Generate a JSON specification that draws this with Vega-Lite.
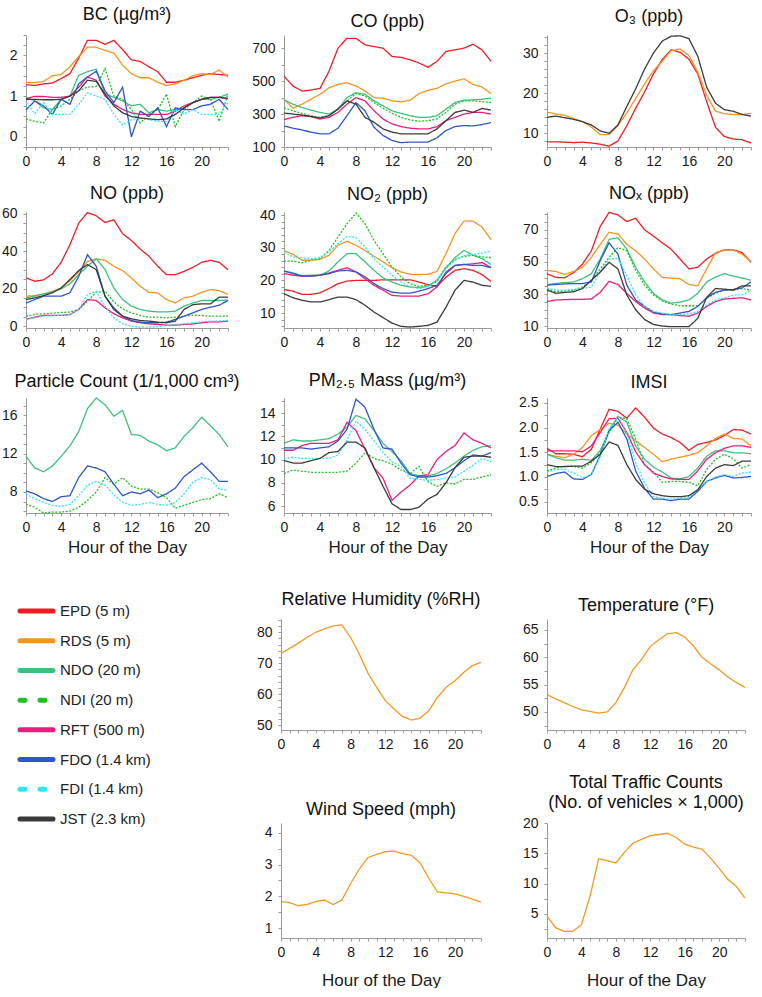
{
"$schema":"https://vega.github.io/schema/vega-lite/v6.json",
"padding":{"left":0,"top":6,"right":0,"bottom":0},
"config":{"font":"Liberation Sans","view":{"stroke":null},
"title":{"font":"Liberation Sans","fontSize":18,"fontWeight":"normal","color":"#111","offset":0,"lineHeight":20},
"axis":{"domainColor":"#9a9a9a","tickColor":"#9a9a9a","tickSize":3,"labelFont":"Liberation Sans","labelFontSize":14,"labelColor":"#1a1a1a","grid":false,"titleFont":"Liberation Sans","titleFontSize":17,"titleFontWeight":"normal","titleColor":"#1a1a1a","labelFlush":false,"labelOverlap":false},
"axisX":{"labelPadding":4,"minExtent":22,"maxExtent":22,"titlePadding":4},
"axisY":{"labelPadding":6},
"line":{"strokeWidth":1.3}},
"datasets":{
"bc":[
{"h":0,"EPD":1.28,"RDS":1.33,"NDO":0.97,"NDI":0.44,"RFT":0.94,"FDO":0.66,"FDI":0.84,"JST":0.92},
{"h":1,"EPD":1.26,"RDS":1.33,"NDO":0.88,"NDI":0.38,"RFT":0.99,"FDO":0.88,"FDI":0.57,"JST":0.92},
{"h":2,"EPD":1.30,"RDS":1.36,"NDO":0.71,"NDI":0.34,"RFT":0.99,"FDO":0.76,"FDI":0.84,"JST":0.91},
{"h":3,"EPD":1.32,"RDS":1.50,"NDO":0.67,"NDI":0.67,"RFT":0.97,"FDO":0.55,"FDI":0.55,"JST":0.91},
{"h":4,"EPD":1.43,"RDS":1.53,"NDO":0.92,"NDI":0.76,"RFT":0.97,"FDO":0.92,"FDI":0.55,"JST":0.92},
{"h":5,"EPD":1.55,"RDS":1.72,"NDO":1.00,"NDI":0.92,"RFT":1.00,"FDO":0.80,"FDI":0.55,"JST":1.00},
{"h":6,"EPD":1.93,"RDS":1.97,"NDO":1.51,"NDI":1.13,"RFT":1.22,"FDO":1.30,"FDI":0.80,"JST":1.13},
{"h":7,"EPD":2.37,"RDS":2.20,"NDO":1.60,"NDI":1.22,"RFT":1.47,"FDO":1.47,"FDI":1.08,"JST":1.39},
{"h":8,"EPD":2.37,"RDS":2.20,"NDO":1.66,"NDI":1.24,"RFT":1.39,"FDO":1.61,"FDI":1.00,"JST":1.36},
{"h":9,"EPD":2.27,"RDS":2.12,"NDO":1.05,"NDI":1.68,"RFT":1.00,"FDO":1.13,"FDI":0.92,"JST":1.05},
{"h":10,"EPD":2.37,"RDS":2.06,"NDO":0.97,"NDI":1.00,"RFT":0.80,"FDO":0.84,"FDI":0.55,"JST":0.76},
{"h":11,"EPD":2.14,"RDS":1.76,"NDO":0.88,"NDI":0.92,"RFT":0.67,"FDO":1.22,"FDI":0.29,"JST":0.59},
{"h":12,"EPD":1.89,"RDS":1.55,"NDO":0.76,"NDI":0.67,"RFT":0.59,"FDO":0.00,"FDI":0.42,"JST":0.50},
{"h":13,"EPD":1.85,"RDS":1.45,"NDO":0.80,"NDI":0.34,"RFT":0.55,"FDO":0.63,"FDI":0.46,"JST":0.46},
{"h":14,"EPD":1.72,"RDS":1.45,"NDO":0.59,"NDI":0.55,"RFT":0.55,"FDO":0.50,"FDI":0.42,"JST":0.44},
{"h":15,"EPD":1.60,"RDS":1.34,"NDO":0.67,"NDI":0.67,"RFT":0.55,"FDO":0.71,"FDI":0.38,"JST":0.42},
{"h":16,"EPD":1.34,"RDS":1.26,"NDO":0.63,"NDI":1.05,"RFT":0.55,"FDO":0.25,"FDI":0.38,"JST":0.44},
{"h":17,"EPD":1.34,"RDS":1.30,"NDO":0.67,"NDI":0.25,"RFT":0.63,"FDO":0.71,"FDI":0.67,"JST":0.55},
{"h":18,"EPD":1.39,"RDS":1.39,"NDO":0.71,"NDI":0.67,"RFT":0.76,"FDO":0.67,"FDI":0.55,"JST":0.71},
{"h":19,"EPD":1.45,"RDS":1.50,"NDO":0.84,"NDI":0.84,"RFT":0.84,"FDO":0.67,"FDI":0.67,"JST":0.84},
{"h":20,"EPD":1.51,"RDS":1.55,"NDO":0.92,"NDI":1.00,"RFT":0.92,"FDO":0.76,"FDI":0.55,"JST":0.92},
{"h":21,"EPD":1.55,"RDS":1.53,"NDO":0.92,"NDI":0.92,"RFT":0.97,"FDO":0.80,"FDI":0.55,"JST":0.97},
{"h":22,"EPD":1.53,"RDS":1.64,"NDO":0.97,"NDI":0.38,"RFT":0.97,"FDO":0.92,"FDI":0.55,"JST":0.97},
{"h":23,"EPD":1.51,"RDS":1.47,"NDO":1.05,"NDI":1.05,"RFT":0.94,"FDO":0.67,"FDI":0.84,"JST":0.94}],
"co":[
{"h":0,"EPD":530,"RDS":390,"NDO":386,"NDI":336,"RFT":266,"FDO":228,"JST":306},
{"h":1,"EPD":470,"RDS":336,"NDO":360,"NDI":320,"RFT":280,"FDO":214,"JST":300},
{"h":2,"EPD":440,"RDS":360,"NDO":340,"NDI":304,"RFT":290,"FDO":204,"JST":294},
{"h":3,"EPD":446,"RDS":390,"NDO":324,"NDI":290,"RFT":284,"FDO":190,"JST":286},
{"h":4,"EPD":456,"RDS":420,"NDO":310,"NDI":280,"RFT":270,"FDO":180,"JST":276},
{"h":5,"EPD":560,"RDS":460,"NDO":300,"NDI":290,"RFT":280,"FDO":180,"JST":290},
{"h":6,"EPD":700,"RDS":480,"NDO":330,"NDI":330,"RFT":310,"FDO":214,"JST":330},
{"h":7,"EPD":760,"RDS":490,"NDO":400,"NDI":380,"RFT":360,"FDO":290,"JST":380},
{"h":8,"EPD":760,"RDS":470,"NDO":430,"NDI":424,"RFT":400,"FDO":370,"JST":360},
{"h":9,"EPD":720,"RDS":440,"NDO":420,"NDI":410,"RFT":380,"FDO":320,"JST":280},
{"h":10,"EPD":710,"RDS":400,"NDO":380,"NDI":370,"RFT":320,"FDO":220,"JST":250},
{"h":11,"EPD":700,"RDS":396,"NDO":350,"NDI":336,"RFT":270,"FDO":170,"JST":210},
{"h":12,"EPD":650,"RDS":380,"NDO":320,"NDI":304,"RFT":240,"FDO":140,"JST":190},
{"h":13,"EPD":644,"RDS":374,"NDO":304,"NDI":280,"RFT":224,"FDO":126,"JST":180},
{"h":14,"EPD":630,"RDS":384,"NDO":290,"NDI":264,"RFT":214,"FDO":130,"JST":180},
{"h":15,"EPD":610,"RDS":424,"NDO":280,"NDI":256,"RFT":210,"FDO":130,"JST":180},
{"h":16,"EPD":584,"RDS":444,"NDO":280,"NDI":260,"RFT":210,"FDO":130,"JST":180},
{"h":17,"EPD":620,"RDS":456,"NDO":290,"NDI":270,"RFT":224,"FDO":156,"JST":210},
{"h":18,"EPD":680,"RDS":484,"NDO":330,"NDI":310,"RFT":260,"FDO":200,"JST":260},
{"h":19,"EPD":690,"RDS":500,"NDO":370,"NDI":360,"RFT":280,"FDO":224,"JST":310},
{"h":20,"EPD":700,"RDS":514,"NDO":384,"NDI":380,"RFT":300,"FDO":230,"JST":324},
{"h":21,"EPD":724,"RDS":480,"NDO":386,"NDI":380,"RFT":310,"FDO":228,"JST":310},
{"h":22,"EPD":690,"RDS":464,"NDO":390,"NDI":376,"RFT":310,"FDO":236,"JST":334},
{"h":23,"EPD":620,"RDS":424,"NDO":396,"NDI":370,"RFT":300,"FDO":248,"JST":324}],
"o3":[
{"h":0,"EPD":7.9,"RDS":15.3,"JST":14.0},{"h":1,"EPD":7.9,"RDS":14.8,"JST":14.3},{"h":2,"EPD":7.8,"RDS":14.5,"JST":13.9},{"h":3,"EPD":7.7,"RDS":13.7,"JST":13.5},
{"h":4,"EPD":7.8,"RDS":12.9,"JST":12.9},{"h":5,"EPD":7.6,"RDS":11.6,"JST":12.1},{"h":6,"EPD":7.3,"RDS":9.7,"JST":10.6},{"h":7,"EPD":6.8,"RDS":9.7,"JST":10.0},
{"h":8,"EPD":8.1,"RDS":11.9,"JST":12.1},{"h":9,"EPD":11.9,"RDS":15.1,"JST":16.7},{"h":10,"EPD":16.3,"RDS":18.7,"JST":21.1},{"h":11,"EPD":20.3,"RDS":22.3,"JST":26.0},
{"h":12,"EPD":24.8,"RDS":25.6,"JST":30.0},{"h":13,"EPD":28.4,"RDS":28.0,"JST":33.0},{"h":14,"EPD":30.8,"RDS":30.6,"JST":34.2},{"h":15,"EPD":30.2,"RDS":31.0,"JST":34.3},
{"h":16,"EPD":28.5,"RDS":29.4,"JST":33.6},{"h":17,"EPD":24.8,"RDS":25.2,"JST":29.2},{"h":18,"EPD":17.9,"RDS":19.5,"JST":21.5},{"h":19,"EPD":11.5,"RDS":15.5,"JST":17.5},
{"h":20,"EPD":9.2,"RDS":14.9,"JST":15.9},{"h":21,"EPD":8.6,"RDS":14.7,"JST":15.5},{"h":22,"EPD":8.4,"RDS":14.7,"JST":14.7},{"h":23,"EPD":7.6,"RDS":15.0,"JST":14.3}],
"no":[
{"h":0,"EPD":25.8,"RDS":16.0,"NDO":15.1,"NDI":5.3,"RFT":3.6,"FDO":12.3,"FDI":3.6,"JST":14.2},
{"h":1,"EPD":24.0,"RDS":16.3,"NDO":16.0,"NDI":6.2,"RFT":4.8,"FDO":14.2,"FDI":4.4,"JST":15.1},
{"h":2,"EPD":24.7,"RDS":17.2,"NDO":17.2,"NDI":6.6,"RFT":5.7,"FDO":16.0,"FDI":5.3,"JST":16.3},
{"h":3,"EPD":27.9,"RDS":18.6,"NDO":18.3,"NDI":6.9,"RFT":5.7,"FDO":16.0,"FDI":5.7,"JST":17.8},
{"h":4,"EPD":34.1,"RDS":20.4,"NDO":19.9,"NDI":7.3,"RFT":5.7,"FDO":16.0,"FDI":5.7,"JST":20.4},
{"h":5,"EPD":43.5,"RDS":24.3,"NDO":22.6,"NDI":7.5,"RFT":6.2,"FDO":17.8,"FDI":6.2,"JST":24.9},
{"h":6,"EPD":55.0,"RDS":29.0,"NDO":27.5,"NDI":8.9,"RFT":8.9,"FDO":26.6,"FDI":8.9,"JST":29.7},
{"h":7,"EPD":60.7,"RDS":34.6,"NDO":32.0,"NDI":13.3,"RFT":14.2,"FDO":38.2,"FDI":16.9,"JST":32.9},
{"h":8,"EPD":59.0,"RDS":35.9,"NDO":36.0,"NDI":18.1,"RFT":13.7,"FDO":32.0,"FDI":18.6,"JST":30.2},
{"h":9,"EPD":55.4,"RDS":35.2,"NDO":30.2,"NDI":18.6,"RFT":9.8,"FDO":16.0,"FDI":10.7,"JST":16.0},
{"h":10,"EPD":56.8,"RDS":32.0,"NDO":20.4,"NDI":13.0,"RFT":6.6,"FDO":9.8,"FDI":4.4,"JST":8.9},
{"h":11,"EPD":49.4,"RDS":29.7,"NDO":14.2,"NDI":9.2,"RFT":4.4,"FDO":5.3,"FDI":1.2,"JST":5.3},
{"h":12,"EPD":45.8,"RDS":25.8,"NDO":10.7,"NDI":7.1,"RFT":2.7,"FDO":3.0,"FDI":0.0,"JST":3.9},
{"h":13,"EPD":41.2,"RDS":21.3,"NDO":8.9,"NDI":5.7,"RFT":1.8,"FDO":2.1,"FDI":-0.5,"JST":3.0},
{"h":14,"EPD":37.3,"RDS":18.1,"NDO":8.0,"NDI":4.8,"RFT":1.2,"FDO":1.8,"FDI":-0.5,"JST":2.7},
{"h":15,"EPD":32.0,"RDS":17.8,"NDO":7.6,"NDI":4.8,"RFT":0.9,"FDO":1.8,"FDI":-0.2,"JST":2.1},
{"h":16,"EPD":27.5,"RDS":14.2,"NDO":7.6,"NDI":4.4,"RFT":0.5,"FDO":2.1,"FDI":0.4,"JST":1.8},
{"h":17,"EPD":27.5,"RDS":12.4,"NDO":8.0,"NDI":4.8,"RFT":0.5,"FDO":3.6,"FDI":0.9,"JST":2.7},
{"h":18,"EPD":29.3,"RDS":15.1,"NDO":10.7,"NDI":5.3,"RFT":0.9,"FDO":5.3,"FDI":1.2,"JST":8.9},
{"h":19,"EPD":31.4,"RDS":16.0,"NDO":12.4,"NDI":5.9,"RFT":1.2,"FDO":7.1,"FDI":1.8,"JST":11.5},
{"h":20,"EPD":34.1,"RDS":18.1,"NDO":13.7,"NDI":5.7,"RFT":1.8,"FDO":8.9,"FDI":2.3,"JST":11.9},
{"h":21,"EPD":35.2,"RDS":19.5,"NDO":13.7,"NDI":5.3,"RFT":2.3,"FDO":10.1,"FDI":2.7,"JST":11.9},
{"h":22,"EPD":34.1,"RDS":19.0,"NDO":13.7,"NDI":5.3,"RFT":2.3,"FDO":11.2,"FDI":2.7,"JST":15.5},
{"h":23,"EPD":30.2,"RDS":16.9,"NDO":13.9,"NDI":5.3,"RFT":2.7,"FDO":13.7,"FDI":3.0,"JST":15.5}],
"no2":[
{"h":0,"EPD":17.2,"RDS":29.2,"NDO":22.9,"NDI":25.9,"RFT":22.1,"FDO":22.9,"FDI":28.7,"JST":15.9},
{"h":1,"EPD":16.7,"RDS":28.0,"NDO":22.3,"NDI":25.9,"RFT":21.6,"FDO":22.1,"FDI":27.2,"JST":14.7},
{"h":2,"EPD":15.7,"RDS":26.2,"NDO":21.5,"NDI":25.4,"RFT":21.3,"FDO":21.3,"FDI":27.0,"JST":13.9},
{"h":3,"EPD":15.7,"RDS":26.2,"NDO":21.6,"NDI":26.2,"RFT":21.3,"FDO":21.3,"FDI":26.7,"JST":13.4},
{"h":4,"EPD":16.2,"RDS":26.5,"NDO":21.6,"NDI":26.7,"RFT":21.6,"FDO":21.6,"FDI":27.0,"JST":13.4},
{"h":5,"EPD":17.5,"RDS":27.7,"NDO":22.9,"NDI":29.2,"RFT":22.3,"FDO":22.1,"FDI":28.7,"JST":14.1},
{"h":6,"EPD":19.0,"RDS":30.8,"NDO":25.7,"NDI":33.3,"RFT":23.1,"FDO":22.9,"FDI":31.3,"JST":14.9},
{"h":7,"EPD":19.8,"RDS":32.0,"NDO":28.2,"NDI":37.4,"RFT":23.9,"FDO":23.1,"FDI":33.5,"JST":14.9},
{"h":8,"EPD":20.0,"RDS":30.8,"NDO":28.2,"NDI":40.7,"RFT":22.6,"FDO":22.6,"FDI":33.1,"JST":14.1},
{"h":9,"EPD":20.0,"RDS":29.2,"NDO":25.7,"NDI":37.4,"RFT":20.5,"FDO":21.1,"FDI":30.3,"JST":12.4},
{"h":10,"EPD":20.0,"RDS":27.4,"NDO":23.1,"NDI":32.3,"RFT":18.5,"FDO":19.0,"FDI":26.7,"JST":10.3},
{"h":11,"EPD":20.2,"RDS":25.7,"NDO":20.8,"NDI":28.2,"RFT":17.0,"FDO":17.5,"FDI":24.1,"JST":8.6},
{"h":12,"EPD":20.2,"RDS":23.9,"NDO":19.5,"NDI":24.1,"RFT":15.4,"FDO":16.4,"FDI":21.6,"JST":6.9},
{"h":13,"EPD":20.2,"RDS":22.6,"NDO":18.5,"NDI":21.1,"RFT":15.2,"FDO":16.1,"FDI":19.5,"JST":5.9},
{"h":14,"EPD":20.2,"RDS":21.9,"NDO":18.0,"NDI":19.0,"RFT":15.2,"FDO":16.1,"FDI":18.0,"JST":5.7},
{"h":15,"EPD":19.5,"RDS":21.8,"NDO":17.8,"NDI":18.2,"RFT":15.2,"FDO":16.7,"FDI":17.5,"JST":5.9},
{"h":16,"EPD":18.7,"RDS":21.9,"NDO":18.2,"NDI":18.5,"RFT":15.9,"FDO":17.5,"FDI":18.2,"JST":6.2},
{"h":17,"EPD":18.2,"RDS":22.8,"NDO":20.0,"NDI":19.7,"RFT":18.0,"FDO":18.5,"FDI":20.2,"JST":7.2},
{"h":18,"EPD":21.0,"RDS":28.2,"NDO":23.9,"NDI":24.1,"RFT":22.6,"FDO":22.1,"FDI":23.6,"JST":11.8},
{"h":19,"EPD":23.1,"RDS":34.4,"NDO":27.0,"NDI":26.4,"RFT":24.6,"FDO":24.6,"FDI":26.2,"JST":17.0},
{"h":20,"EPD":23.6,"RDS":38.2,"NDO":29.2,"NDI":27.4,"RFT":24.9,"FDO":24.9,"FDI":27.7,"JST":20.0},
{"h":21,"EPD":23.1,"RDS":38.2,"NDO":27.7,"NDI":27.7,"RFT":25.1,"FDO":24.6,"FDI":28.0,"JST":19.5},
{"h":22,"EPD":21.8,"RDS":36.4,"NDO":26.7,"NDI":27.2,"RFT":25.5,"FDO":24.6,"FDI":28.4,"JST":18.5},
{"h":23,"EPD":19.7,"RDS":32.5,"NDO":24.9,"NDI":27.0,"RFT":23.9,"FDO":23.9,"FDI":29.0,"JST":18.2}],
"nox":[
{"h":0,"EPD":42.7,"RDS":44.7,"NDO":36.0,"NDI":33.1,"RFT":25.4,"FDO":35.6,"FDI":33.5,"JST":32.5},
{"h":1,"EPD":40.4,"RDS":44.1,"NDO":36.6,"NDI":31.5,"RFT":26.4,"FDO":36.0,"FDI":32.5,"JST":30.5},
{"h":2,"EPD":40.2,"RDS":42.3,"NDO":37.2,"NDI":31.9,"RFT":26.6,"FDO":36.4,"FDI":32.5,"JST":31.1},
{"h":3,"EPD":43.3,"RDS":44.1,"NDO":37.6,"NDI":32.5,"RFT":26.8,"FDO":36.6,"FDI":32.9,"JST":31.5},
{"h":4,"EPD":48.7,"RDS":46.7,"NDO":39.6,"NDI":34.5,"RFT":26.8,"FDO":36.6,"FDI":33.5,"JST":33.5},
{"h":5,"EPD":56.9,"RDS":52.8,"NDO":42.7,"NDI":38.6,"RFT":27.0,"FDO":37.6,"FDI":34.5,"JST":38.6},
{"h":6,"EPD":72.0,"RDS":60.9,"NDO":51.8,"NDI":45.7,"RFT":31.1,"FDO":50.8,"FDI":43.7,"JST":43.7},
{"h":7,"EPD":80.8,"RDS":68.4,"NDO":64.0,"NDI":52.8,"RFT":38.0,"FDO":61.9,"FDI":51.8,"JST":49.8},
{"h":8,"EPD":79.2,"RDS":67.4,"NDO":65.0,"NDI":58.9,"RFT":36.0,"FDO":54.8,"FDI":52.2,"JST":45.7},
{"h":9,"EPD":75.1,"RDS":60.9,"NDO":57.9,"NDI":56.9,"RFT":30.5,"FDO":35.6,"FDI":41.6,"JST":29.5},
{"h":10,"EPD":77.1,"RDS":56.9,"NDO":46.7,"NDI":44.7,"RFT":25.4,"FDO":26.4,"FDI":29.5,"JST":20.3},
{"h":11,"EPD":70.0,"RDS":51.8,"NDO":37.6,"NDI":35.6,"RFT":21.4,"FDO":22.4,"FDI":22.4,"JST":14.3},
{"h":12,"EPD":66.0,"RDS":45.7,"NDO":30.5,"NDI":29.5,"RFT":18.3,"FDO":18.9,"FDI":19.3,"JST":11.2},
{"h":13,"EPD":61.9,"RDS":40.4,"NDO":26.4,"NDI":25.8,"RFT":17.3,"FDO":17.7,"FDI":18.3,"JST":10.2},
{"h":14,"EPD":57.9,"RDS":40.0,"NDO":24.4,"NDI":23.8,"RFT":17.3,"FDO":17.3,"FDI":17.3,"JST":9.8},
{"h":15,"EPD":51.8,"RDS":39.6,"NDO":25.0,"NDI":22.8,"RFT":16.7,"FDO":18.3,"FDI":17.3,"JST":9.8},
{"h":16,"EPD":45.7,"RDS":36.0,"NDO":26.4,"NDI":22.8,"RFT":16.3,"FDO":19.3,"FDI":17.7,"JST":9.8},
{"h":17,"EPD":46.7,"RDS":35.2,"NDO":30.5,"NDI":22.8,"RFT":18.3,"FDO":22.4,"FDI":19.3,"JST":15.0},
{"h":18,"EPD":51.8,"RDS":45.7,"NDO":37.6,"NDI":27.4,"RFT":22.4,"FDO":27.8,"FDI":23.4,"JST":28.0},
{"h":19,"EPD":55.4,"RDS":55.8,"NDO":40.6,"NDI":30.5,"RFT":25.4,"FDO":31.1,"FDI":26.4,"JST":33.5},
{"h":20,"EPD":57.5,"RDS":57.5,"NDO":42.7,"NDI":32.5,"RFT":27.0,"FDO":32.5,"FDI":27.8,"JST":33.1},
{"h":21,"EPD":57.5,"RDS":57.5,"NDO":41.2,"NDI":32.5,"RFT":27.4,"FDO":32.9,"FDI":29.5,"JST":32.5},
{"h":22,"EPD":55.8,"RDS":54.8,"NDO":40.0,"NDI":33.5,"RFT":27.8,"FDO":33.9,"FDI":29.5,"JST":35.2},
{"h":23,"EPD":49.8,"RDS":50.2,"NDO":38.6,"NDI":32.5,"RFT":26.4,"FDO":37.6,"FDI":32.5,"JST":35.2}],
"pc":[
{"h":0,"NDO":11.7,"NDI":6.7,"FDO":8.1,"FDI":7.8},{"h":1,"NDO":10.5,"NDI":6.4,"FDO":7.8,"FDI":7.3},{"h":2,"NDO":10.1,"NDI":5.8,"FDO":7.3,"FDI":6.9},
{"h":3,"NDO":10.7,"NDI":5.9,"FDO":7.0,"FDI":6.6},{"h":4,"NDO":11.7,"NDI":5.9,"FDO":7.5,"FDI":6.5},{"h":5,"NDO":12.8,"NDI":6.0,"FDO":7.6,"FDI":6.7},
{"h":6,"NDO":14.3,"NDI":6.4,"FDO":9.5,"FDI":7.6},{"h":7,"NDO":16.7,"NDI":7.1,"FDO":10.7,"FDI":8.7},{"h":8,"NDO":17.8,"NDI":8.0,"FDO":10.5,"FDI":9.1},
{"h":9,"NDO":17.1,"NDI":9.5,"FDO":10.1,"FDI":8.7},{"h":10,"NDO":15.9,"NDI":8.8,"FDO":8.8,"FDI":7.7},{"h":11,"NDO":16.5,"NDI":9.5,"FDO":7.6,"FDI":6.9},
{"h":12,"NDO":14.0,"NDI":8.6,"FDO":8.0,"FDI":6.6},{"h":13,"NDO":13.9,"NDI":8.3,"FDO":7.8,"FDI":6.7},{"h":14,"NDO":13.3,"NDI":8.3,"FDO":8.2,"FDI":6.9},
{"h":15,"NDO":12.9,"NDI":7.9,"FDO":7.4,"FDI":6.7},{"h":16,"NDO":12.3,"NDI":7.4,"FDO":7.8,"FDI":6.6},{"h":17,"NDO":12.6,"NDI":6.3,"FDO":8.4,"FDI":6.9},
{"h":18,"NDO":13.8,"NDI":6.6,"FDO":9.6,"FDI":7.8},{"h":19,"NDO":14.7,"NDI":6.9,"FDO":10.3,"FDI":9.0},{"h":20,"NDO":15.8,"NDI":7.2,"FDO":11.0,"FDI":9.5},
{"h":21,"NDO":14.9,"NDI":7.3,"FDO":10.1,"FDI":9.3},{"h":22,"NDO":14.0,"NDI":7.8,"FDO":9.1,"FDI":8.3},{"h":23,"NDO":12.7,"NDI":7.4,"FDO":9.1,"FDI":8.2}],
"pm":[
{"h":0,"NDO":11.4,"NDI":8.8,"RFT":10.8,"FDO":11.0,"FDI":10.1,"JST":9.9},
{"h":1,"NDO":11.7,"NDI":9.1,"RFT":10.8,"FDO":11.0,"FDI":10.2,"JST":9.7},
{"h":2,"NDO":11.6,"NDI":9.0,"RFT":11.2,"FDO":11.0,"FDI":10.1,"JST":9.7},
{"h":3,"NDO":11.6,"NDI":8.9,"RFT":11.4,"FDO":10.9,"FDI":10.1,"JST":9.9},
{"h":4,"NDO":11.7,"NDI":8.9,"RFT":11.4,"FDO":11.0,"FDI":10.1,"JST":10.1},
{"h":5,"NDO":11.8,"NDI":8.9,"RFT":11.4,"FDO":11.1,"FDI":10.1,"JST":10.6},
{"h":6,"NDO":12.2,"NDI":8.9,"RFT":11.7,"FDO":11.6,"FDI":10.4,"JST":10.7},
{"h":7,"NDO":12.8,"NDI":9.0,"RFT":13.2,"FDO":12.6,"FDI":11.7,"JST":11.5},
{"h":8,"NDO":13.8,"NDI":9.7,"RFT":12.5,"FDO":15.2,"FDI":13.3,"JST":11.5},
{"h":9,"NDO":13.5,"NDI":10.6,"RFT":10.9,"FDO":14.5,"FDI":12.6,"JST":11.0},
{"h":10,"NDO":12.5,"NDI":10.1,"RFT":9.3,"FDO":12.6,"FDI":11.6,"JST":9.3},
{"h":11,"NDO":11.4,"NDI":9.9,"RFT":8.4,"FDO":11.0,"FDI":10.6,"JST":7.7},
{"h":12,"NDO":10.7,"NDI":9.6,"RFT":6.5,"FDO":10.9,"FDI":9.8,"JST":6.2},
{"h":13,"NDO":9.9,"NDI":9.1,"RFT":7.2,"FDO":9.7,"FDI":9.4,"JST":5.7},
{"h":14,"NDO":8.8,"NDI":8.8,"RFT":7.8,"FDO":8.7,"FDI":8.4,"JST":5.7},
{"h":15,"NDO":8.6,"NDI":9.4,"RFT":8.6,"FDO":8.5,"FDI":8.3,"JST":5.9},
{"h":16,"NDO":8.6,"NDI":8.1,"RFT":8.7,"FDO":8.5,"FDI":8.2,"JST":6.6},
{"h":17,"NDO":8.8,"NDI":7.7,"RFT":10.0,"FDO":8.6,"FDI":8.3,"JST":7.0},
{"h":18,"NDO":9.2,"NDI":8.0,"RFT":10.7,"FDO":8.8,"FDI":8.4,"JST":8.0},
{"h":19,"NDO":9.7,"NDI":7.9,"RFT":11.2,"FDO":9.3,"FDI":8.5,"JST":9.3},
{"h":20,"NDO":10.3,"NDI":8.3,"RFT":12.3,"FDO":9.9,"FDI":9.0,"JST":10.2},
{"h":21,"NDO":10.8,"NDI":8.3,"RFT":11.7,"FDO":10.4,"FDI":9.5,"JST":10.3},
{"h":22,"NDO":11.1,"NDI":8.5,"RFT":11.4,"FDO":10.3,"FDI":10.1,"JST":10.3},
{"h":23,"NDO":11.2,"NDI":8.7,"RFT":11.0,"FDO":10.6,"FDI":9.8,"JST":10.2}],
"imsi":[
{"h":0,"EPD":1.58,"RDS":1.46,"NDO":1.46,"NDI":1.12,"RFT":1.53,"FDO":1.01,"FDI":1.10,"JST":1.25},
{"h":1,"EPD":1.47,"RDS":1.42,"NDO":1.39,"NDI":1.18,"RFT":1.53,"FDO":1.07,"FDI":1.15,"JST":1.21},
{"h":2,"EPD":1.47,"RDS":1.39,"NDO":1.34,"NDI":1.22,"RFT":1.53,"FDO":1.10,"FDI":1.16,"JST":1.21},
{"h":3,"EPD":1.46,"RDS":1.46,"NDO":1.34,"NDI":1.21,"RFT":1.53,"FDO":0.96,"FDI":1.08,"JST":1.22},
{"h":4,"EPD":1.41,"RDS":1.60,"NDO":1.36,"NDI":1.18,"RFT":1.51,"FDO":0.95,"FDI":0.98,"JST":1.22},
{"h":5,"EPD":1.56,"RDS":1.84,"NDO":1.34,"NDI":1.29,"RFT":1.63,"FDO":1.05,"FDI":1.05,"JST":1.32},
{"h":6,"EPD":1.97,"RDS":1.96,"NDO":1.53,"NDI":1.49,"RFT":1.90,"FDO":1.44,"FDI":1.42,"JST":1.46},
{"h":7,"EPD":2.37,"RDS":2.09,"NDO":1.94,"NDI":1.90,"RFT":2.18,"FDO":1.94,"FDI":1.97,"JST":1.71},
{"h":8,"EPD":2.33,"RDS":2.05,"NDO":2.23,"NDI":2.21,"RFT":2.19,"FDO":2.11,"FDI":2.23,"JST":1.64},
{"h":9,"EPD":2.19,"RDS":1.87,"NDO":2.11,"NDI":2.18,"RFT":1.90,"FDO":1.77,"FDI":1.90,"JST":1.25},
{"h":10,"EPD":2.40,"RDS":1.73,"NDO":1.63,"NDI":1.77,"RFT":1.51,"FDO":1.12,"FDI":1.29,"JST":0.95},
{"h":11,"EPD":2.21,"RDS":1.60,"NDO":1.36,"NDI":1.25,"RFT":1.25,"FDO":0.77,"FDI":0.88,"JST":0.75},
{"h":12,"EPD":1.99,"RDS":1.46,"NDO":1.20,"NDI":1.10,"RFT":1.08,"FDO":0.55,"FDI":0.60,"JST":0.66},
{"h":13,"EPD":1.87,"RDS":1.31,"NDO":1.10,"NDI":0.89,"RFT":1.01,"FDO":0.55,"FDI":0.57,"JST":0.62},
{"h":14,"EPD":1.80,"RDS":1.36,"NDO":0.98,"NDI":0.91,"RFT":0.96,"FDO":0.52,"FDI":0.55,"JST":0.60},
{"h":15,"EPD":1.70,"RDS":1.40,"NDO":0.96,"NDI":0.91,"RFT":0.95,"FDO":0.55,"FDI":0.57,"JST":0.60},
{"h":16,"EPD":1.54,"RDS":1.44,"NDO":1.01,"NDI":0.89,"RFT":0.95,"FDO":0.55,"FDI":0.59,"JST":0.62},
{"h":17,"EPD":1.66,"RDS":1.49,"NDO":1.18,"NDI":0.82,"RFT":1.12,"FDO":0.71,"FDI":0.75,"JST":0.74},
{"h":18,"EPD":1.70,"RDS":1.63,"NDO":1.42,"NDI":1.15,"RFT":1.36,"FDO":0.91,"FDI":0.91,"JST":1.01},
{"h":19,"EPD":1.75,"RDS":1.78,"NDO":1.53,"NDI":1.36,"RFT":1.49,"FDO":0.98,"FDI":1.00,"JST":1.18},
{"h":20,"EPD":1.84,"RDS":1.87,"NDO":1.53,"NDI":1.46,"RFT":1.58,"FDO":1.03,"FDI":1.05,"JST":1.25},
{"h":21,"EPD":1.96,"RDS":1.78,"NDO":1.49,"NDI":1.37,"RFT":1.63,"FDO":0.98,"FDI":1.01,"JST":1.23},
{"h":22,"EPD":1.95,"RDS":1.77,"NDO":1.49,"NDI":1.18,"RFT":1.63,"FDO":0.99,"FDI":1.08,"JST":1.32},
{"h":23,"EPD":1.87,"RDS":1.63,"NDO":1.47,"NDI":1.25,"RFT":1.60,"FDO":1.01,"FDI":1.10,"JST":1.32}],
"rh":[{"h":0,"v":73.2},{"h":1,"v":74.8},{"h":2,"v":76.5},{"h":3,"v":78.4},{"h":4,"v":80.0},{"h":5,"v":81.1},{"h":6,"v":82.1},{"h":7,"v":82.4},{"h":8,"v":78.4},{"h":9,"v":73.0},{"h":10,"v":66.8},{"h":11,"v":62.2},{"h":12,"v":57.9},{"h":13,"v":55.2},{"h":14,"v":52.7},{"h":15,"v":51.6},{"h":16,"v":52.2},{"h":17,"v":54.6},{"h":18,"v":59.0},{"h":19,"v":62.2},{"h":20,"v":64.3},{"h":21,"v":67.0},{"h":22,"v":69.2},{"h":23,"v":70.3}],
"temp":[{"h":0,"v":53.2},{"h":1,"v":52.4},{"h":2,"v":51.7},{"h":3,"v":51.0},{"h":4,"v":50.4},{"h":5,"v":50.1},{"h":6,"v":49.8},{"h":7,"v":50.0},{"h":8,"v":51.7},{"h":9,"v":54.5},{"h":10,"v":57.8},{"h":11,"v":59.6},{"h":12,"v":62.0},{"h":13,"v":63.2},{"h":14,"v":64.3},{"h":15,"v":64.5},{"h":16,"v":63.7},{"h":17,"v":62.1},{"h":18,"v":60.0},{"h":19,"v":58.8},{"h":20,"v":57.7},{"h":21,"v":56.4},{"h":22,"v":55.4},{"h":23,"v":54.5}],
"wind":[{"h":0,"v":1.84},{"h":1,"v":1.81},{"h":2,"v":1.71},{"h":3,"v":1.75},{"h":4,"v":1.84},{"h":5,"v":1.89},{"h":6,"v":1.75},{"h":7,"v":1.89},{"h":8,"v":2.40},{"h":9,"v":2.86},{"h":10,"v":3.22},{"h":11,"v":3.32},{"h":12,"v":3.40},{"h":13,"v":3.42},{"h":14,"v":3.34},{"h":15,"v":3.29},{"h":16,"v":3.05},{"h":17,"v":2.57},{"h":18,"v":2.14},{"h":19,"v":2.11},{"h":20,"v":2.08},{"h":21,"v":2.00},{"h":22,"v":1.92},{"h":23,"v":1.82}],
"traffic":[{"h":0,"v":4.6},{"h":1,"v":2.7},{"h":2,"v":2.1},{"h":3,"v":2.1},{"h":4,"v":3.2},{"h":5,"v":7.9},{"h":6,"v":14.1},{"h":7,"v":13.8},{"h":8,"v":13.4},{"h":9,"v":15.2},{"h":10,"v":16.7},{"h":11,"v":17.3},{"h":12,"v":17.9},{"h":13,"v":18.1},{"h":14,"v":18.3},{"h":15,"v":17.6},{"h":16,"v":16.5},{"h":17,"v":16.0},{"h":18,"v":15.7},{"h":19,"v":14.2},{"h":20,"v":12.5},{"h":21,"v":10.7},{"h":22,"v":9.5},{"h":23,"v":7.6}],
"legend":[{"site":"EPD","label":"EPD (5 m)"},{"site":"RDS","label":"RDS (5 m)"},{"site":"NDO","label":"NDO (20 m)"},{"site":"NDI","label":"NDI (20 m)"},{"site":"RFT","label":"RFT (500 m)"},{"site":"FDO","label":"FDO (1.4 km)"},{"site":"FDI","label":"FDI (1.4 km)"},{"site":"JST","label":"JST (2.3 km)"}]
},
"vconcat":[
{"spacing":22,"vconcat":[
{"spacing":15,"vconcat":[
{"bounds":"flush","spacing":56,"hconcat":[
{"width":202,"height":112,"title":"BC (µg/m³)","data":{"name":"bc"},"transform":[{"fold":["EPD","RDS","NDO","NDI","RFT","FDO","FDI","JST"],"as":["site","v"]}],"mark":"line",
"encoding":{"x":{"field":"h","type":"quantitative","scale":{"domain":[0,23],"nice":false},"axis":{"values":[0,1,2,3,4,5,6,7,8,9,10,11,12,13,14,15,16,17,18,19,20,21,22,23],"labelExpr":"datum.value % 4 == 0 ? datum.label : ''","title":null}},
"y":{"field":"v","type":"quantitative","scale":{"domain":[-0.25,2.5],"nice":false,"zero":false},"axis":{"values":[-0.25,0,0.25,0.5,0.75,1,1.25,1.5,1.75,2,2.25,2.5],"labelExpr":"datum.value % 1 == 0 ? format(datum.value, 'd') : ''","title":null,"minExtent":26,"maxExtent":26}},
"color":{"field":"site","type":"nominal","scale":{"domain":["EPD","RDS","NDO","NDI","RFT","FDO","FDI","JST"],"range":["#ee1c25","#f7941d","#3fbf7f","#1ec21e","#ec1c7c","#2f55c8","#2ee6f0","#3a3a3a"]},"legend":null},
"strokeDash":{"field":"site","type":"nominal","scale":{"domain":["EPD","RDS","NDO","NDI","RFT","FDO","FDI","JST"],"range":[[1,0],[1,0],[1,0],[2,1.5],[1,0],[1,0],[2,1.5],[1,0]]},"legend":null}}},
{"width":207,"height":112,"title":"CO (ppb)","data":{"name":"co"},"transform":[{"fold":["EPD","RDS","NDO","NDI","RFT","FDO","JST"],"as":["site","v"]}],"mark":"line",
"encoding":{"x":{"field":"h","type":"quantitative","scale":{"domain":[0,23],"nice":false},"axis":{"values":[0,1,2,3,4,5,6,7,8,9,10,11,12,13,14,15,16,17,18,19,20,21,22,23],"labelExpr":"datum.value % 4 == 0 ? datum.label : ''","title":null}},
"y":{"field":"v","type":"quantitative","scale":{"domain":[100,780],"nice":false,"zero":false},"axis":{"values":[100,200,300,400,500,600,700],"labelExpr":"datum.value % 200 == 100 ? datum.label : ''","title":null}},
"color":{"field":"site","type":"nominal","scale":{"domain":["EPD","RDS","NDO","NDI","RFT","FDO","FDI","JST"],"range":["#ee1c25","#f7941d","#3fbf7f","#1ec21e","#ec1c7c","#2f55c8","#2ee6f0","#3a3a3a"]},"legend":null},
"strokeDash":{"field":"site","type":"nominal","scale":{"domain":["EPD","RDS","NDO","NDI","RFT","FDO","FDI","JST"],"range":[[1,0],[1,0],[1,0],[2,1.5],[1,0],[1,0],[2,1.5],[1,0]]},"legend":null}}},
{"width":204,"height":112,"title":"O₃ (ppb)","data":{"name":"o3"},"transform":[{"fold":["EPD","RDS","JST"],"as":["site","v"]}],"mark":"line",
"encoding":{"x":{"field":"h","type":"quantitative","scale":{"domain":[0,23],"nice":false},"axis":{"values":[0,1,2,3,4,5,6,7,8,9,10,11,12,13,14,15,16,17,18,19,20,21,22,23],"labelExpr":"datum.value % 4 == 0 ? datum.label : ''","title":null}},
"y":{"field":"v","type":"quantitative","scale":{"domain":[6.6,34.5],"nice":false,"zero":false},"axis":{"values":[8,10,12,14,16,18,20,22,24,26,28,30,32,34],"labelExpr":"datum.value % 10 == 0 ? datum.label : ''","title":null}},
"color":{"field":"site","type":"nominal","scale":{"domain":["EPD","RDS","NDO","NDI","RFT","FDO","FDI","JST"],"range":["#ee1c25","#f7941d","#3fbf7f","#1ec21e","#ec1c7c","#2f55c8","#2ee6f0","#3a3a3a"]},"legend":null},
"strokeDash":{"field":"site","type":"nominal","scale":{"domain":["EPD","RDS","NDO","NDI","RFT","FDO","FDI","JST"],"range":[[1,0],[1,0],[1,0],[2,1.5],[1,0],[1,0],[2,1.5],[1,0]]},"legend":null}}}
]},
{"bounds":"flush","spacing":56,"hconcat":[
{"width":202,"height":116,"title":"NO (ppb)","data":{"name":"no"},"transform":[{"fold":["EPD","RDS","NDO","NDI","RFT","FDO","FDI","JST"],"as":["site","v"]}],"mark":"line",
"encoding":{"x":{"field":"h","type":"quantitative","scale":{"domain":[0,23],"nice":false},"axis":{"values":[0,1,2,3,4,5,6,7,8,9,10,11,12,13,14,15,16,17,18,19,20,21,22,23],"labelExpr":"datum.value % 4 == 0 ? datum.label : ''","title":null}},
"y":{"field":"v","type":"quantitative","scale":{"domain":[-1,61],"nice":false,"zero":false},"axis":{"values":[0,5,10,15,20,25,30,35,40,45,50,55,60],"labelExpr":"datum.value % 20 == 0 ? datum.label : ''","title":null,"minExtent":26,"maxExtent":26}},
"color":{"field":"site","type":"nominal","scale":{"domain":["EPD","RDS","NDO","NDI","RFT","FDO","FDI","JST"],"range":["#ee1c25","#f7941d","#3fbf7f","#1ec21e","#ec1c7c","#2f55c8","#2ee6f0","#3a3a3a"]},"legend":null},
"strokeDash":{"field":"site","type":"nominal","scale":{"domain":["EPD","RDS","NDO","NDI","RFT","FDO","FDI","JST"],"range":[[1,0],[1,0],[1,0],[2,1.5],[1,0],[1,0],[2,1.5],[1,0]]},"legend":null}}},
{"width":207,"height":116,"title":"NO₂ (ppb)","data":{"name":"no2"},"transform":[{"fold":["EPD","RDS","NDO","NDI","RFT","FDO","FDI","JST"],"as":["site","v"]}],"mark":"line",
"encoding":{"x":{"field":"h","type":"quantitative","scale":{"domain":[0,23],"nice":false},"axis":{"values":[0,1,2,3,4,5,6,7,8,9,10,11,12,13,14,15,16,17,18,19,20,21,22,23],"labelExpr":"datum.value % 4 == 0 ? datum.label : ''","title":null}},
"y":{"field":"v","type":"quantitative","scale":{"domain":[5.4,41],"nice":false,"zero":false},"axis":{"values":[6,8,10,12,14,16,18,20,22,24,26,28,30,32,34,36,38,40],"labelExpr":"datum.value % 10 == 0 ? datum.label : ''","title":null}},
"color":{"field":"site","type":"nominal","scale":{"domain":["EPD","RDS","NDO","NDI","RFT","FDO","FDI","JST"],"range":["#ee1c25","#f7941d","#3fbf7f","#1ec21e","#ec1c7c","#2f55c8","#2ee6f0","#3a3a3a"]},"legend":null},
"strokeDash":{"field":"site","type":"nominal","scale":{"domain":["EPD","RDS","NDO","NDI","RFT","FDO","FDI","JST"],"range":[[1,0],[1,0],[1,0],[2,1.5],[1,0],[1,0],[2,1.5],[1,0]]},"legend":null}}},
{"width":204,"height":116,"title":"NOₓ (ppb)","data":{"name":"nox"},"transform":[{"fold":["EPD","RDS","NDO","NDI","RFT","FDO","FDI","JST"],"as":["site","v"]}],"mark":"line",
"encoding":{"x":{"field":"h","type":"quantitative","scale":{"domain":[0,23],"nice":false},"axis":{"values":[0,1,2,3,4,5,6,7,8,9,10,11,12,13,14,15,16,17,18,19,20,21,22,23],"labelExpr":"datum.value % 4 == 0 ? datum.label : ''","title":null}},
"y":{"field":"v","type":"quantitative","scale":{"domain":[9,81],"nice":false,"zero":false},"axis":{"values":[10,15,20,25,30,35,40,45,50,55,60,65,70,75,80],"labelExpr":"(datum.value - 10) % 20 == 0 ? datum.label : ''","title":null}},
"color":{"field":"site","type":"nominal","scale":{"domain":["EPD","RDS","NDO","NDI","RFT","FDO","FDI","JST"],"range":["#ee1c25","#f7941d","#3fbf7f","#1ec21e","#ec1c7c","#2f55c8","#2ee6f0","#3a3a3a"]},"legend":null},
"strokeDash":{"field":"site","type":"nominal","scale":{"domain":["EPD","RDS","NDO","NDI","RFT","FDO","FDI","JST"],"range":[[1,0],[1,0],[1,0],[2,1.5],[1,0],[1,0],[2,1.5],[1,0]]},"legend":null}}}
]}
]},
{"bounds":"flush","spacing":56,"hconcat":[
{"width":202,"height":115,"title":"Particle Count (1/1,000 cm³)","data":{"name":"pc"},"transform":[{"fold":["NDO","NDI","FDO","FDI"],"as":["site","v"]}],"mark":"line",
"encoding":{"x":{"field":"h","type":"quantitative","scale":{"domain":[0,23],"nice":false},"axis":{"values":[0,1,2,3,4,5,6,7,8,9,10,11,12,13,14,15,16,17,18,19,20,21,22,23],"labelExpr":"datum.value % 4 == 0 ? datum.label : ''","title":"Hour of the Day"}},
"y":{"field":"v","type":"quantitative","scale":{"domain":[5.8,17.8],"nice":false,"zero":false},"axis":{"values":[6,7,8,9,10,11,12,13,14,15,16,17],"labelExpr":"datum.value % 4 == 0 ? datum.label : ''","title":null,"minExtent":26,"maxExtent":26}},
"color":{"field":"site","type":"nominal","scale":{"domain":["EPD","RDS","NDO","NDI","RFT","FDO","FDI","JST"],"range":["#ee1c25","#f7941d","#3fbf7f","#1ec21e","#ec1c7c","#2f55c8","#2ee6f0","#3a3a3a"]},"legend":null},
"strokeDash":{"field":"site","type":"nominal","scale":{"domain":["EPD","RDS","NDO","NDI","RFT","FDO","FDI","JST"],"range":[[1,0],[1,0],[1,0],[2,1.5],[1,0],[1,0],[2,1.5],[1,0]]},"legend":null}}},
{"width":207,"height":115,"title":"PM₂.₅ Mass (µg/m³)","data":{"name":"pm"},"transform":[{"fold":["NDO","NDI","RFT","FDO","FDI","JST"],"as":["site","v"]}],"mark":"line",
"encoding":{"x":{"field":"h","type":"quantitative","scale":{"domain":[0,23],"nice":false},"axis":{"values":[0,1,2,3,4,5,6,7,8,9,10,11,12,13,14,15,16,17,18,19,20,21,22,23],"labelExpr":"datum.value % 4 == 0 ? datum.label : ''","title":"Hour of the Day"}},
"y":{"field":"v","type":"quantitative","scale":{"domain":[5.4,15.3],"nice":false,"zero":false},"axis":{"values":[6,7,8,9,10,11,12,13,14,15],"labelExpr":"datum.value % 2 == 0 ? datum.label : ''","title":null}},
"color":{"field":"site","type":"nominal","scale":{"domain":["EPD","RDS","NDO","NDI","RFT","FDO","FDI","JST"],"range":["#ee1c25","#f7941d","#3fbf7f","#1ec21e","#ec1c7c","#2f55c8","#2ee6f0","#3a3a3a"]},"legend":null},
"strokeDash":{"field":"site","type":"nominal","scale":{"domain":["EPD","RDS","NDO","NDI","RFT","FDO","FDI","JST"],"range":[[1,0],[1,0],[1,0],[2,1.5],[1,0],[1,0],[2,1.5],[1,0]]},"legend":null}}},
{"width":204,"height":115,"title":"IMSI","data":{"name":"imsi"},"transform":[{"fold":["EPD","RDS","NDO","NDI","RFT","FDO","FDI","JST"],"as":["site","v"]}],"mark":"line",
"encoding":{"x":{"field":"h","type":"quantitative","scale":{"domain":[0,23],"nice":false},"axis":{"values":[0,1,2,3,4,5,6,7,8,9,10,11,12,13,14,15,16,17,18,19,20,21,22,23],"labelExpr":"datum.value % 4 == 0 ? datum.label : ''","title":"Hour of the Day"}},
"y":{"field":"v","type":"quantitative","scale":{"domain":[0.27,2.6],"nice":false,"zero":false},"axis":{"values":[0.5,0.75,1,1.25,1.5,1.75,2,2.25,2.5],"labelExpr":"datum.value % 0.5 == 0 ? format(datum.value, '.1f') : ''","title":null}},
"color":{"field":"site","type":"nominal","scale":{"domain":["EPD","RDS","NDO","NDI","RFT","FDO","FDI","JST"],"range":["#ee1c25","#f7941d","#3fbf7f","#1ec21e","#ec1c7c","#2f55c8","#2ee6f0","#3a3a3a"]},"legend":null},
"strokeDash":{"field":"site","type":"nominal","scale":{"domain":["EPD","RDS","NDO","NDI","RFT","FDO","FDI","JST"],"range":[[1,0],[1,0],[1,0],[2,1.5],[1,0],[1,0],[2,1.5],[1,0]]},"legend":null}}}
]}
]},
{"spacing":63,"hconcat":[
{"width":160,"height":200,"data":{"name":"legend"},
"layer":[
{"transform":[{"filter":{"field":"site","oneOf":["EPD","RDS","NDO","RFT","FDO","JST"]}}],
"mark":{"type":"rule","strokeWidth":5,"strokeCap":"round"},
"encoding":{"y":{"field":"site","type":"nominal","scale":{"type":"point","domain":["EPD","RDS","NDO","NDI","RFT","FDO","FDI","JST"],"range":[-8,200],"padding":0},"axis":null},
"x":{"datum":0,"type":"quantitative","scale":{"domain":[0.182,5.03],"nice":false,"zero":false},"axis":null},"x2":{"datum":1},
"color":{"field":"site","type":"nominal","scale":{"domain":["EPD","RDS","NDO","NDI","RFT","FDO","FDI","JST"],"range":["#ee1c25","#f7941d","#3fbf7f","#1ec21e","#ec1c7c","#2f55c8","#2ee6f0","#3a3a3a"]},"legend":null}}},
{"transform":[{"filter":{"field":"site","oneOf":["NDI","FDI"]}}],
"mark":{"type":"rule","strokeWidth":5,"strokeCap":"round","strokeDash":[5,15]},
"encoding":{"y":{"field":"site","type":"nominal"},
"x":{"datum":0,"type":"quantitative"},"x2":{"datum":1},
"color":{"field":"site","type":"nominal","legend":null}}},
{"mark":{"type":"text","align":"left","dx":7,"fontSize":15,"color":"#222"},
"encoding":{"y":{"field":"site","type":"nominal"},"x":{"datum":1,"type":"quantitative"},"text":{"field":"label"}}}
]},
{"spacing":22,"vconcat":[
{"bounds":"flush","spacing":66,"hconcat":[
{"width":200,"height":111,"title":"Relative Humidity (%RH)","data":{"name":"rh"},"mark":{"type":"line","color":"#f29a1f"},
"encoding":{"x":{"field":"h","type":"quantitative","scale":{"domain":[0,23],"nice":false},"axis":{"values":[0,1,2,3,4,5,6,7,8,9,10,11,12,13,14,15,16,17,18,19,20,21,22,23],"labelExpr":"datum.value % 4 == 0 ? datum.label : ''","title":null}},
"y":{"field":"v","type":"quantitative","scale":{"domain":[48.4,84.3],"nice":false,"zero":false},"axis":{"values":[50,52,54,56,58,60,62,64,66,68,70,72,74,76,78,80,82,84],"labelExpr":"datum.value % 10 == 0 ? datum.label : ''","title":null,"minExtent":32,"maxExtent":32}}}},
{"width":198,"height":111,"title":"Temperature (°F)","data":{"name":"temp"},"mark":{"type":"line","color":"#f29a1f"},
"encoding":{"x":{"field":"h","type":"quantitative","scale":{"domain":[0,23],"nice":false},"axis":{"values":[0,1,2,3,4,5,6,7,8,9,10,11,12,13,14,15,16,17,18,19,20,21,22,23],"labelExpr":"datum.value % 4 == 0 ? datum.label : ''","title":null}},
"y":{"field":"v","type":"quantitative","scale":{"domain":[46.7,67],"nice":false,"zero":false},"axis":{"values":[47.5,50,52.5,55,57.5,60,62.5,65],"labelExpr":"datum.value % 5 == 0 ? datum.label : ''","title":null}}}}
]},
{"bounds":"flush","spacing":66,"hconcat":[
{"width":200,"height":115,"title":"Wind Speed (mph)","data":{"name":"wind"},"mark":{"type":"line","color":"#f29a1f"},
"encoding":{"x":{"field":"h","type":"quantitative","scale":{"domain":[0,23],"nice":false},"axis":{"values":[0,1,2,3,4,5,6,7,8,9,10,11,12,13,14,15,16,17,18,19,20,21,22,23],"labelExpr":"datum.value % 4 == 0 ? datum.label : ''","title":"Hour of the Day","titlePadding":12}},
"y":{"field":"v","type":"quantitative","scale":{"domain":[0.7,4.3],"nice":false,"zero":false},"axis":{"values":[1,1.5,2,2.5,3,3.5,4],"labelExpr":"datum.value % 1 == 0 ? format(datum.value, 'd') : ''","title":null,"minExtent":32,"maxExtent":32}}}},
{"width":198,"height":115,"title":{"text":["Total Traffic Counts","(No. of vehicles × 1,000)"]},"data":{"name":"traffic"},"mark":{"type":"line","color":"#f29a1f"},
"encoding":{"x":{"field":"h","type":"quantitative","scale":{"domain":[0,23],"nice":false},"axis":{"values":[0,1,2,3,4,5,6,7,8,9,10,11,12,13,14,15,16,17,18,19,20,21,22,23],"labelExpr":"datum.value % 4 == 0 ? datum.label : ''","title":"Hour of the Day","titlePadding":12}},
"y":{"field":"v","type":"quantitative","scale":{"domain":[1,20],"nice":false,"zero":false},"axis":{"values":[2.5,5,7.5,10,12.5,15,17.5,20],"labelExpr":"datum.value % 5 == 0 ? datum.label : ''","title":null}}}}
]}
]}
]}
],
"spacing":35
}
